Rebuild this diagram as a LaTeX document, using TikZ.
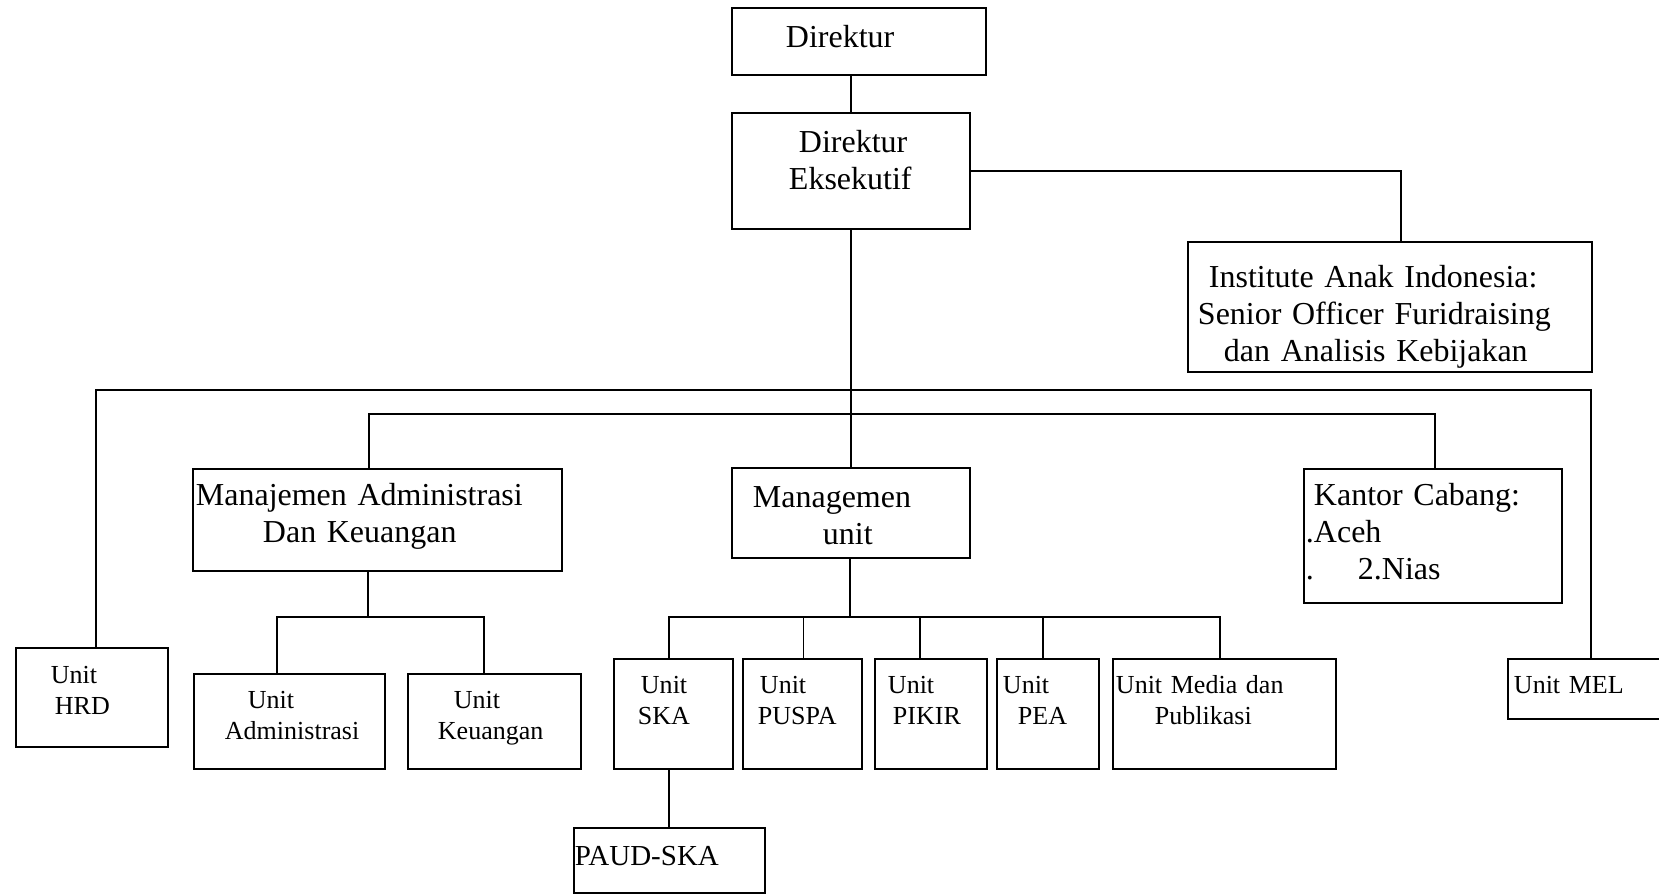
\documentclass[tikz,border=0pt]{standalone}
\usepackage{fontspec}
\setmainfont{Liberation Serif}
\usepackage{tikz}
\usetikzlibrary{positioning,calc}
\newlength{\pxu}
\setlength{\pxu}{0.02cm}

\begin{document}
\begin{tikzpicture}[
    x=0.02cm, y=-0.02cm,
    line width=1.1pt,
    block/.style={rectangle, draw, anchor=north west, align=left, inner sep=0pt, font=\fontsize{18.2pt}{21pt}\selectfont},
    unit/.style={block, font=\fontsize{14.8pt}{17.6pt}\selectfont},
    link/.style={line width=1.1pt}
]
\useasboundingbox (0,0) rectangle (1659,893);
\clip (0,0) rectangle (1659,893);

% Pimpinan
\node[block, text width=5.08cm, text height=0.80cm, text depth=0.54cm] (dir) at (731,7) {\hspace*{54\pxu}Direktur};
\node[block, text width=4.76cm, text height=0.80cm, text depth=1.52cm] (de) at (731,112) {\hspace*{67\pxu}Direktur\\\hspace*{57\pxu}Eksekutif};
\node[block, text width=8.08cm, text height=0.92cm, text depth=1.68cm] (inst) at (1187,241) {\hspace*{21\pxu}Institute Anak Indonesia:\\\hspace*{10\pxu}Senior Officer Furidraising\\\hspace*{36\pxu}dan Analisis Kebijakan};

% Manajemen dan kantor cabang
\node[block, text width=7.38cm, text height=0.74cm, text depth=1.30cm] (mak) at (192,468) {\hspace*{3\pxu}Manajemen Administrasi\\\hspace*{70\pxu}Dan Keuangan};
\node[block, text width=4.76cm, text height=0.80cm, text depth=1.00cm] (mu) at (731,467) {\hspace*{21\pxu}Managemen\\\hspace*{91\pxu}unit};
\node[block, text width=5.16cm, text height=0.74cm, text depth=1.94cm] (kc) at (1303,468) {\hspace*{10\pxu}Kantor Cabang:\\\hspace*{2\pxu}.Aceh\\\hspace*{2\pxu}.\hspace*{44\pxu}2.Nias};

% Unit-unit
\node[unit, text width=3.04cm, text height=0.72cm, text depth=1.26cm] (hrd) at (15,647) {\hspace*{35\pxu}Unit\\\hspace*{39\pxu}HRD};
\node[unit, text width=3.82cm, text height=0.70cm, text depth=1.20cm] (uadm) at (193,673) {\hspace*{54\pxu}Unit\\\hspace*{31\pxu}Administrasi};
\node[unit, text width=3.46cm, text height=0.70cm, text depth=1.20cm] (ukeu) at (407,673) {\hspace*{46\pxu}Unit\\\hspace*{30\pxu}Keuangan};
\node[unit, text width=2.38cm, text height=0.70cm, text depth=1.50cm] (ska) at (613,658) {\hspace*{27\pxu}Unit\\\hspace*{24\pxu}SKA};
\node[unit, text width=2.38cm, text height=0.70cm, text depth=1.50cm] (puspa) at (742,658) {\hspace*{17\pxu}Unit\\\hspace*{15\pxu}PUSPA};
\node[unit, text width=2.24cm, text height=0.70cm, text depth=1.50cm] (pikir) at (874,658) {\hspace*{13\pxu}Unit\\\hspace*{18\pxu}PIKIR};
\node[unit, text width=2.04cm, text height=0.70cm, text depth=1.50cm] (pea) at (996,658) {\hspace*{6\pxu}Unit\\\hspace*{21\pxu}PEA};
\node[unit, text width=4.46cm, text height=0.70cm, text depth=1.50cm] (media) at (1112,658) {\hspace*{3\pxu}Unit Media dan\\\hspace*{42\pxu}Publikasi};
\node[unit, text width=3.32cm, text height=0.70cm, text depth=0.50cm] (mel) at (1507,658) {\hspace*{6\pxu}Unit MEL};
\node[block, font=\fontsize{16.5pt}{19pt}\selectfont, text width=3.82cm, text height=0.76cm, text depth=0.54cm] (paud) at (573,827) {\hspace*{1\pxu}PAUD-SKA};

% Titik cabang garis
\coordinate (busA) at (850,390);
\coordinate (busB) at (850,414);
\coordinate (busC) at (368,617);
\coordinate (busD) at (850,617);

% Garis pimpinan
\draw[link] (de.north) -- (de.north |- dir.south);
\draw[link] (de.east) -| ($(inst.north)+(11,0)$);
\draw[link] (de.south) -- (mu.north);
\draw[link] ($(hrd.north)+(4,0)$) |- (busA) -| (mel.north);
\draw[link] ($(mak.north)+(-8,0)$) |- (busB) -| ($(kc.north)+(2,0)$);

% Garis ke unit
\draw[link] (busC |- mak.south) -- (busC);
\draw[link] ($(uadm.north)+(-12,0)$) |- (busC) -| ($(ukeu.north)+(-10,0)$);
\draw[link] (busD |- mu.south) -- (busD);
\foreach \u/\dx in {ska/-4, puspa/1, pikir/-11, pea/-5, media/-4}
    \draw[link] ($(\u.north)+(\dx,0)$) |- (busD);
\draw[link] (paud.north) -- (paud.north |- ska.south);

\end{tikzpicture}
\end{document}
